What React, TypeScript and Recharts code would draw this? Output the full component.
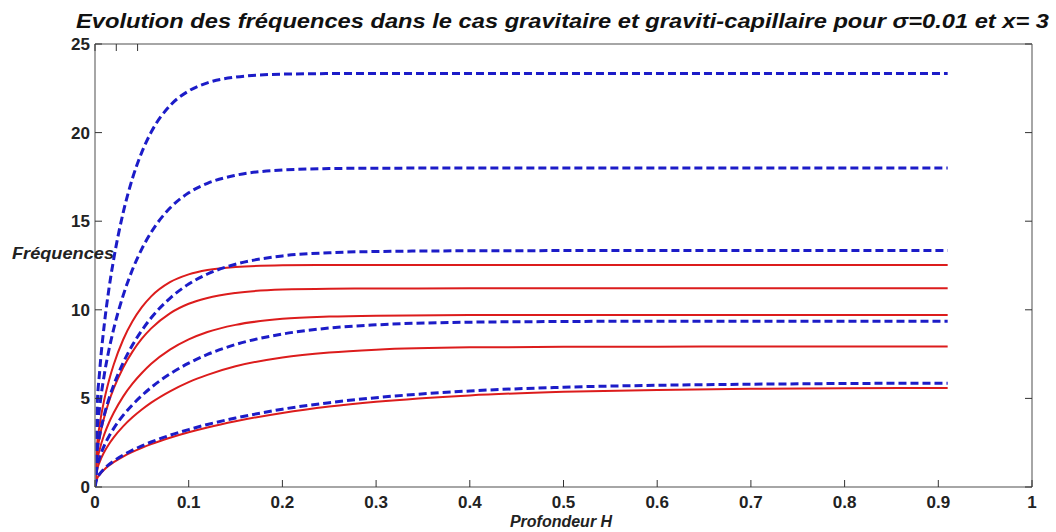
import { LineChart, Line, XAxis, YAxis } from "recharts";

// profondeur H (abscisse)
const H = [0, 0.002, 0.005, 0.01, 0.015, 0.02, 0.03, 0.04, 0.05, 0.06, 0.08, 0.1, 0.12, 0.15, 0.2, 0.25, 0.3, 0.4, 0.5, 0.6, 0.7, 0.8, 0.91];

// cas gravitaire (traits rouges)
const R1 = [0, 0.44, 0.7, 0.99, 1.22, 1.4, 1.72, 1.98, 2.21, 2.42, 2.78, 3.09, 3.36, 3.71, 4.18, 4.54, 4.81, 5.17, 5.37, 5.48, 5.54, 5.57, 5.59];
const R2 = [0, 0.89, 1.41, 1.99, 2.43, 2.8, 3.42, 3.93, 4.37, 4.76, 5.4, 5.92, 6.33, 6.81, 7.31, 7.59, 7.75, 7.88, 7.91, 7.92, 7.93, 7.93, 7.93];
const R3 = [0, 1.33, 2.11, 2.98, 3.64, 4.19, 5.1, 5.83, 6.43, 6.95, 7.75, 8.33, 8.75, 9.15, 9.49, 9.62, 9.67, 9.7, 9.71, 9.71, 9.71, 9.71, 9.71];
const R4 = [0, 1.78, 2.81, 3.96, 4.84, 5.56, 6.73, 7.64, 8.37, 8.95, 9.8, 10.34, 10.67, 10.95, 11.14, 11.19, 11.2, 11.21, 11.21, 11.21, 11.21, 11.21, 11.21];
const R5 = [0, 2.22, 3.51, 4.95, 6.03, 6.91, 8.31, 9.35, 10.15, 10.76, 11.56, 12.0, 12.25, 12.42, 12.51, 12.53, 12.53, 12.53, 12.53, 12.53, 12.53, 12.53, 12.53];

// cas graviti-capillaire (tirets bleus)
const B1 = [0, 0.47, 0.74, 1.04, 1.28, 1.47, 1.8, 2.08, 2.32, 2.54, 2.92, 3.24, 3.53, 3.89, 4.39, 4.76, 5.04, 5.42, 5.63, 5.74, 5.8, 5.84, 5.86];
const B2 = [0, 1.05, 1.66, 2.35, 2.87, 3.31, 4.04, 4.64, 5.16, 5.62, 6.38, 6.99, 7.48, 8.04, 8.63, 8.97, 9.15, 9.3, 9.34, 9.36, 9.36, 9.36, 9.36];
const B3 = [0, 1.83, 2.9, 4.09, 5.0, 5.76, 7.0, 8.01, 8.84, 9.55, 10.65, 11.45, 12.02, 12.57, 13.04, 13.22, 13.29, 13.33, 13.34, 13.34, 13.34, 13.34, 13.34];
const B4 = [0, 2.85, 4.51, 6.37, 7.77, 8.93, 10.8, 12.27, 13.44, 14.38, 15.74, 16.6, 17.14, 17.59, 17.89, 17.97, 17.99, 18.0, 18.0, 18.0, 18.0, 18.0, 18.0];
const B5 = [0, 4.14, 6.54, 9.21, 11.23, 12.87, 15.47, 17.42, 18.9, 20.03, 21.52, 22.35, 22.81, 23.13, 23.3, 23.33, 23.34, 23.34, 23.34, 23.34, 23.34, 23.34, 23.34];

const X_TICKS = [0, 0.1, 0.2, 0.3, 0.4, 0.5, 0.6, 0.7, 0.8, 0.9, 1];
const Y_TICKS = [0, 5, 10, 15, 20, 25];

const RED = [R1, R2, R3, R4, R5];
const BLUE = [B1, B2, B3, B4, B5];

const data = H.map((h, i) => {
  const row: Record<string, number> = { h };
  RED.forEach((s, k) => (row[`r${k}`] = s[i]));
  BLUE.forEach((s, k) => (row[`b${k}`] = s[i]));
  return row;
});

const FONT = "'Liberation Sans', Arial, sans-serif";
const TICK_COLOR = "#333";
const AXIS_COLOR = "#888";

const BottomTick = (props: any) => {
  const { x, y, payload } = props;
  return (
    <g>
      <line x1={x} x2={x} y1={y} y2={y - 7} stroke={TICK_COLOR} />
      <text x={x} y={y + 21} textAnchor="middle" fontFamily={FONT} fontWeight="bold" fontSize={17} fill="#222">
        {String(payload.value)}
      </text>
    </g>
  );
};

const TopTick = (props: any) => {
  const { x, y } = props;
  return <line x1={x} x2={x} y1={y} y2={y + 7} stroke={TICK_COLOR} />;
};

const LeftTick = (props: any) => {
  const { x, y, payload } = props;
  return (
    <g>
      <line x1={x} x2={x + 7} y1={y} y2={y} stroke={TICK_COLOR} />
      <text x={x - 5} y={y + 6} textAnchor="end" fontFamily={FONT} fontWeight="bold" fontSize={17} fill="#222">
        {String(payload.value)}
      </text>
    </g>
  );
};

const RightTick = (props: any) => {
  const { x, y } = props;
  return <line x1={x} x2={x - 7} y1={y} y2={y} stroke={TICK_COLOR} />;
};

export default function App() {
  return (
    <div style={{ position: "absolute", left: 0, top: 0, width: 1056, height: 532, background: "#fff" }}>
      <LineChart width={1056} height={532} data={data} margin={{ top: 34, right: 14, bottom: 15, left: 65 }}>
        <XAxis
          dataKey="h"
          type="number"
          domain={[0, 1]}
          ticks={X_TICKS}
          allowDataOverflow
          height={30}
          tickSize={0}
          tickMargin={0}
          tickLine={false}
          tick={<BottomTick />}
          stroke={AXIS_COLOR}
          strokeWidth={1.5}
        />
        <XAxis
          xAxisId="top"
          orientation="top"
          type="number"
          domain={[0, 1]}
          ticks={X_TICKS}
          allowDataOverflow
          height={10}
          tickSize={0}
          tickMargin={0}
          tickLine={false}
          tick={<TopTick />}
          stroke={AXIS_COLOR}
          strokeWidth={1.5}
        />
        <YAxis
          type="number"
          domain={[0, 25]}
          ticks={Y_TICKS}
          allowDataOverflow
          width={30}
          tickSize={0}
          tickMargin={0}
          tickLine={false}
          tick={<LeftTick />}
          stroke={AXIS_COLOR}
          strokeWidth={1.5}
        />
        <YAxis
          yAxisId="right"
          orientation="right"
          type="number"
          domain={[0, 25]}
          ticks={Y_TICKS}
          allowDataOverflow
          width={10}
          tickSize={0}
          tickMargin={0}
          tickLine={false}
          tick={<RightTick />}
          stroke={AXIS_COLOR}
          strokeWidth={1.5}
        />
        {RED.map((_, k) => (
          <Line
            key={`r${k}`}
            dataKey={`r${k}`}
            type="monotone"
            stroke="#dc1c1c"
            strokeWidth={2}
            dot={false}
            isAnimationActive={false}
          />
        ))}
        {BLUE.map((_, k) => (
          <Line
            key={`b${k}`}
            dataKey={`b${k}`}
            type="monotone"
            stroke="#1c1cc8"
            strokeWidth={3}
            strokeDasharray="8 4"
            dot={false}
            isAnimationActive={false}
          />
        ))}
      </LineChart>
      <svg width={1056} height={532} style={{ position: "absolute", left: 0, top: 0, pointerEvents: "none" }}>
        <text
          x={76}
          y={28}
          fontFamily={FONT}
          fontWeight="bold"
          fontStyle="italic"
          fontSize={20}
          fill="#111"
          textLength={973}
          lengthAdjust="spacingAndGlyphs"
        >
          Evolution des fréquences dans le cas gravitaire et graviti-capillaire pour σ=0.01 et x= 3
        </text>
        <text x={12} y={259} fontFamily={FONT} fontWeight="bold" fontStyle="italic" fontSize={17} fill="#222" textLength={102} lengthAdjust="spacingAndGlyphs">
          Fréquences
        </text>
        <text x={561} y={527} textAnchor="middle" fontFamily={FONT} fontWeight="bold" fontStyle="italic" fontSize={16} fill="#222">
          Profondeur H
        </text>
      </svg>
    </div>
  );
}
